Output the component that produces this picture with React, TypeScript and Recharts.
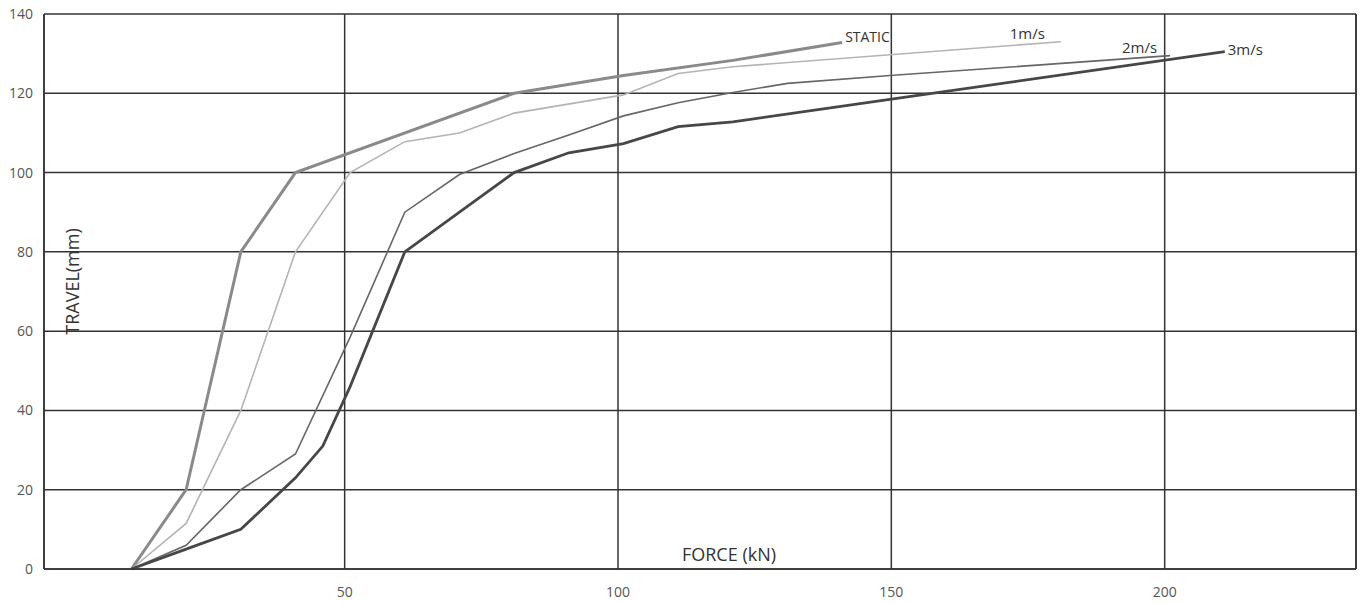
import React from 'react';
import { LineChart, Line, XAxis, YAxis, CartesianGrid, ReferenceLine, Label } from 'recharts';

const xTicks = [50, 100, 150, 200];
const yTicks = [0, 20, 40, 60, 80, 100, 120, 140];

const staticForce = [11, 21, 31, 41, 81, 101, 121, 141];
const staticTravel = [0, 20, 80, 100, 120, 124.5, 128.3, 132.8];

const oneForce = [11, 21, 31, 41, 51, 61, 71, 81, 101, 111, 121, 181];
const oneTravel = [0, 11.5, 40, 80, 100, 107.8, 110, 115, 119.6, 125, 126.7, 133];

const twoForce = [11, 21, 31, 41, 51, 61, 71, 81, 91, 101, 111, 121, 131, 151, 201];
const twoTravel = [0, 6, 20, 29, 58.5, 90, 99.5, 104.8, 109.5, 114.3, 117.6, 120.2, 122.5, 124.6, 129.5];

const threeForce = [11, 21, 31, 41, 46, 51, 61, 71, 81, 91, 101, 111, 121, 151, 211];
const threeTravel = [0, 5, 10, 23, 31, 46, 80, 90, 100, 105, 107.3, 111.6, 112.8, 118.7, 130.5];

const seriesNames = ['STATIC', '1m/s', '2m/s', '3m/s'];

const toPoints = (xs: number[], ys: number[]) => xs.map((x, i) => ({ x, y: ys[i] }));

const staticData = toPoints(staticForce, staticTravel);
const oneData = toPoints(oneForce, oneTravel);
const twoData = toPoints(twoForce, twoTravel);
const threeData = toPoints(threeForce, threeTravel);

const FONT = "'Open Sans', 'Liberation Sans', sans-serif";

const makeEndLabel = (name: string, lastIndex: number, dx: number, dy: number, anchor: 'start' | 'end', size: number) =>
  (props: any) => {
    if (props.index !== lastIndex) return null;
    return (
      <text
        x={props.x + dx}
        y={props.y + dy}
        textAnchor={anchor}
        dominantBaseline="central"
        fontFamily={FONT}
        fontSize={size}
        fill="#333"
      >
        {name}
      </text>
    );
  };

const travelLabel = (props: any) => {
  const vb = props.viewBox || {};
  const cx = (vb.x || 0) + 72;
  const cy = (vb.y || 0) + (vb.height || 0) / 2 - 10;
  return (
    <text
      x={cx}
      y={cy}
      transform={`rotate(-90, ${cx}, ${cy})`}
      textAnchor="middle"
      dominantBaseline="central"
      fontFamily={FONT}
      fontSize={18}
      fill="#333"
    >
      TRAVEL(mm)
    </text>
  );
};

export default function App() {
  return (
    <div style={{ position: 'absolute', left: 0, top: 0, background: '#fff' }}>
      <LineChart
        width={1364}
        height={603}
        margin={{ top: 14, right: 8, left: 0, bottom: 0 }}
      >
        <CartesianGrid stroke="#333" strokeWidth={1.5} />
        <XAxis
          dataKey="x"
          type="number"
          domain={[-5, 235]}
          ticks={xTicks}
          allowDataOverflow
          height={34}
          tickLine={false}
          tickMargin={12}
          axisLine={{ stroke: '#333', strokeWidth: 1.5 }}
          tick={{ fill: '#555', fontSize: 14, fontFamily: FONT }}
        />
        <YAxis
          type="number"
          domain={[0, 140]}
          ticks={yTicks}
          width={44}
          tickLine={false}
          tickMargin={5}
          axisLine={{ stroke: '#333', strokeWidth: 1.5 }}
          tick={{ fill: '#555', fontSize: 14, fontFamily: FONT }}
        >
          <Label content={travelLabel} />
        </YAxis>
        <ReferenceLine x={235} stroke="#333" strokeWidth={1.5} ifOverflow="extendDomain" />
        <ReferenceLine
          y={0}
          stroke="none"
          label={{ value: 'FORCE (kN)', position: 'insideBottom', dx: 29, offset: 8, fontSize: 18, fontFamily: FONT, fill: '#333' } as any}
        />
        <Line
          data={staticData}
          dataKey="y"
          name={seriesNames[0]}
          stroke="#8a8a8a"
          strokeWidth={3}
          dot={false}
          isAnimationActive={false}
          label={makeEndLabel(seriesNames[0], staticData.length - 1, 3, -6, 'start', 14)}
        />
        <Line
          data={oneData}
          dataKey="y"
          name={seriesNames[1]}
          stroke="#b4b4b4"
          strokeWidth={1.6}
          dot={false}
          isAnimationActive={false}
          label={makeEndLabel(seriesNames[1], oneData.length - 1, -16, -9, 'end', 15)}
        />
        <Line
          data={twoData}
          dataKey="y"
          name={seriesNames[2]}
          stroke="#666"
          strokeWidth={1.6}
          dot={false}
          isAnimationActive={false}
          label={makeEndLabel(seriesNames[2], twoData.length - 1, -13, -9, 'end', 15)}
        />
        <Line
          data={threeData}
          dataKey="y"
          name={seriesNames[3]}
          stroke="#474747"
          strokeWidth={2.8}
          dot={false}
          isAnimationActive={false}
          label={makeEndLabel(seriesNames[3], threeData.length - 1, 3, -3, 'start', 15)}
        />
      </LineChart>
    </div>
  );
}
